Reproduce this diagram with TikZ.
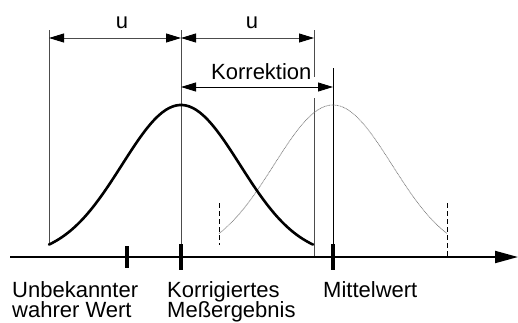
\documentclass[tikz,border=0pt]{standalone}
\usepackage{fontspec}
\setmainfont{Liberation Sans}
\usetikzlibrary{arrows.meta}
\definecolor{thin}{gray}{0.3}
\definecolor{ghost}{gray}{0.5}
\tikzset{
  lbl/.style={inner sep=0pt, font=\fontsize{22}{22}\selectfont},
  guide/.style={draw=thin, line width=0.9pt},
  dim/.style={line width=0.9pt, {Triangle[length=15pt,width=9pt,color=black]}-{Triangle[length=15pt,width=9pt,color=black]}},
  tickmark/.style={line width=3.6pt},
  dashguide/.style={draw=black, line width=0.8pt, dash pattern=on 5pt off 3pt},
}
\begin{document}
\begin{tikzpicture}[x=1pt,y=-1pt]
\useasboundingbox (0,0) rectangle (518,322);
% coordinates
\coordinate (axL) at (10,257);
\coordinate (axR) at (518,257);
\coordinate (lTop) at (49,30);
\coordinate (lBot) at (49,245);
\coordinate (cTop) at (181,30);
\coordinate (cBot) at (181,270);
\coordinate (cTk) at (181,244);
\coordinate (rTop) at (314,30);
\coordinate (rMid1) at (314,77);
\coordinate (rMid2) at (314,98);
\coordinate (rBot) at (314,257);
\coordinate (mTop) at (333,68);
\coordinate (mBot) at (333,270);
\coordinate (mTk) at (333,244);
\coordinate (tTop) at (127,246);
\coordinate (tBot) at (127,268);
\coordinate (dLT) at (219,203);
\coordinate (dLB) at (219,245);
\coordinate (dRT) at (447,203);
\coordinate (dRB) at (447,257);
\coordinate (dimL) at (49,38);
\coordinate (dimC) at (181,38);
\coordinate (dimR) at (314,38);
\coordinate (kL) at (181,87);
\coordinate (kR) at (333,87);
% guide lines
\draw[guide] (lTop) -- (lBot);
\draw[guide] (cTop) -- (cBot);
\draw[guide] (rTop) -- (rMid1);
\draw[guide] (rMid2) -- (rBot);
\draw[line width=0.9pt, black] (mTop) -- (mBot);
\draw[dashguide] (dLT) -- (dLB);
\draw[dashguide] (dRT) -- (dRB);
% dimension arrows
\draw[dim, draw=thin] (dimL) -- (dimC);
\draw[dim, draw=thin] (dimC) -- (dimR);
\draw[dim, black] (kL) -- (kR);
% curves
\draw[ghost, line width=0.7pt, dash pattern=on 1pt off 0.6pt]
  plot[domain=-114:114, samples=80, smooth] ({333+\x}, {257-152*exp(-((\x/59)^2)/2)});
\draw[black, line width=2.6pt, line cap=round]
  plot[domain=-132:132, samples=80, smooth] ({181+\x}, {257-152*exp(-((\x/59)^2)/2)});
% axis
\draw[line width=2pt, -{Triangle[length=23pt,width=12pt]}] (axL) -- (axR);
% ticks
\draw[tickmark] (tTop) -- (tBot);
\draw[tickmark] (cTk) -- (cBot);
\draw[tickmark] (mTk) -- (mBot);
% labels
\node[lbl, anchor=base] (u1) at (122,28) {u};
\node[lbl, anchor=base] (u2) at (252,28) {u};
\node[lbl, anchor=base west] (korr) at (211,79) {Korrektion};
\node[lbl, anchor=base west] (unb1) at (12,297) {Unbekannter};
\node[lbl, anchor=base west] (unb2) at (12,317) {wahrer Wert};
\node[lbl, anchor=base west] (kor1) at (167,297) {Korrigiertes};
\node[lbl, anchor=base west] (kor2) at (167,317) {Meßergebnis};
\node[lbl, anchor=base west] (mit) at (323,297) {Mittelwert};
\end{tikzpicture}
\end{document}
